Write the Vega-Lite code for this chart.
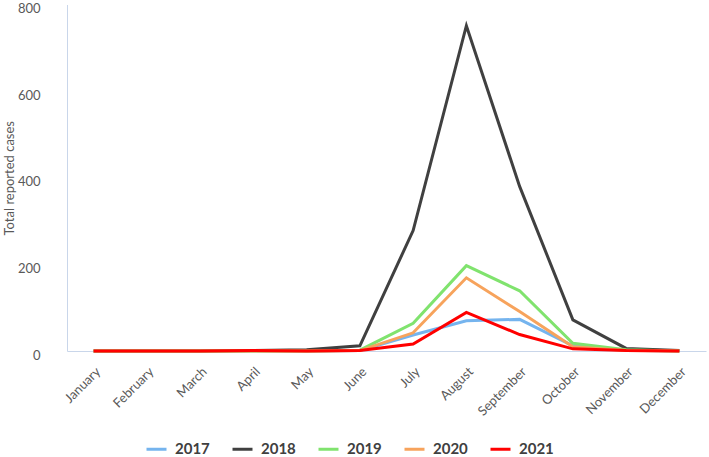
{
  "$schema": "https://vega.github.io/schema/vega-lite/v6.json",
  "autosize": {"type": "none"},
  "padding": {"left": 67, "top": 4.5, "right": 3, "bottom": 106},
  "width": 639,
  "height": 346.5,
  "background": "white",
  "config": {
    "font": "Lato",
    "view": {"stroke": null},
    "axis": {"grid": false, "ticks": false, "domainColor": "#c9d6ea", "domainWidth": 1, "labelColor": "#595959", "labelFont": "Lato", "labelFontSize": 13, "titleColor": "#595959", "titleFont": "Lato", "titleFontSize": 13, "titleFontWeight": "normal"}
  },
  "data": {"values": [
    {"month": "January", "year": "2017", "cases": 0},
    {"month": "February", "year": "2017", "cases": 0},
    {"month": "March", "year": "2017", "cases": 0},
    {"month": "April", "year": "2017", "cases": 0},
    {"month": "May", "year": "2017", "cases": 0},
    {"month": "June", "year": "2017", "cases": 1},
    {"month": "July", "year": "2017", "cases": 37},
    {"month": "August", "year": "2017", "cases": 70},
    {"month": "September", "year": "2017", "cases": 73},
    {"month": "October", "year": "2017", "cases": 12},
    {"month": "November", "year": "2017", "cases": 2},
    {"month": "December", "year": "2017", "cases": 0},
    {"month": "January", "year": "2018", "cases": 0},
    {"month": "February", "year": "2018", "cases": 0},
    {"month": "March", "year": "2018", "cases": 0},
    {"month": "April", "year": "2018", "cases": 1},
    {"month": "May", "year": "2018", "cases": 3},
    {"month": "June", "year": "2018", "cases": 12},
    {"month": "July", "year": "2018", "cases": 278},
    {"month": "August", "year": "2018", "cases": 751},
    {"month": "September", "year": "2018", "cases": 380},
    {"month": "October", "year": "2018", "cases": 72},
    {"month": "November", "year": "2018", "cases": 6},
    {"month": "December", "year": "2018", "cases": 1},
    {"month": "January", "year": "2019", "cases": 0},
    {"month": "February", "year": "2019", "cases": 0},
    {"month": "March", "year": "2019", "cases": 0},
    {"month": "April", "year": "2019", "cases": 0},
    {"month": "May", "year": "2019", "cases": 0},
    {"month": "June", "year": "2019", "cases": 2},
    {"month": "July", "year": "2019", "cases": 64},
    {"month": "August", "year": "2019", "cases": 197},
    {"month": "September", "year": "2019", "cases": 139},
    {"month": "October", "year": "2019", "cases": 18},
    {"month": "November", "year": "2019", "cases": 3},
    {"month": "December", "year": "2019", "cases": 0},
    {"month": "January", "year": "2020", "cases": 0},
    {"month": "February", "year": "2020", "cases": 0},
    {"month": "March", "year": "2020", "cases": 0},
    {"month": "April", "year": "2020", "cases": 0},
    {"month": "May", "year": "2020", "cases": 0},
    {"month": "June", "year": "2020", "cases": 1},
    {"month": "July", "year": "2020", "cases": 42},
    {"month": "August", "year": "2020", "cases": 169},
    {"month": "September", "year": "2020", "cases": 91},
    {"month": "October", "year": "2020", "cases": 10},
    {"month": "November", "year": "2020", "cases": 1},
    {"month": "December", "year": "2020", "cases": 0},
    {"month": "January", "year": "2021", "cases": 0},
    {"month": "February", "year": "2021", "cases": 0},
    {"month": "March", "year": "2021", "cases": 0},
    {"month": "April", "year": "2021", "cases": 1},
    {"month": "May", "year": "2021", "cases": 0},
    {"month": "June", "year": "2021", "cases": 1},
    {"month": "July", "year": "2021", "cases": 16},
    {"month": "August", "year": "2021", "cases": 89},
    {"month": "September", "year": "2021", "cases": 38},
    {"month": "October", "year": "2021", "cases": 5},
    {"month": "November", "year": "2021", "cases": 1},
    {"month": "December", "year": "2021", "cases": 0}
  ]},
  "mark": {"type": "line", "strokeWidth": 3, "strokeJoin": "miter"},
  "encoding": {
    "x": {
      "field": "month", "type": "ordinal",
      "sort": ["January", "February", "March", "April", "May", "June", "July", "August", "September", "October", "November", "December"],
      "scale": {"type": "point", "padding": 0.5},
      "axis": {"title": null, "labelAngle": -45, "labelAlign": "right", "labelBaseline": "top", "labelPadding": 14}
    },
    "y": {
      "field": "cases", "type": "quantitative",
      "scale": {"domain": [0, 800], "nice": false},
      "axis": {"title": "Total reported cases", "values": [0, 200, 400, 600, 800], "labelPadding": 27, "labelOffset": 4, "titlePadding": 1}
    },
    "color": {
      "field": "year", "type": "nominal",
      "scale": {"domain": ["2017", "2018", "2019", "2020", "2021"], "range": ["#75b4ee", "#404040", "#80e36e", "#f7a35c", "#ff0000"]},
      "legend": {
        "title": null, "orient": "none", "legendX": 78, "legendY": 433, "direction": "horizontal", "columns": 5,
        "symbolType": "stroke", "symbolSize": 400, "symbolStrokeWidth": 3,
        "labelFont": "Lato", "labelFontSize": 15, "labelFontWeight": "bold", "labelColor": "#404040",
        "labelOffset": 7, "columnPadding": 16
      }
    }
  }
}
